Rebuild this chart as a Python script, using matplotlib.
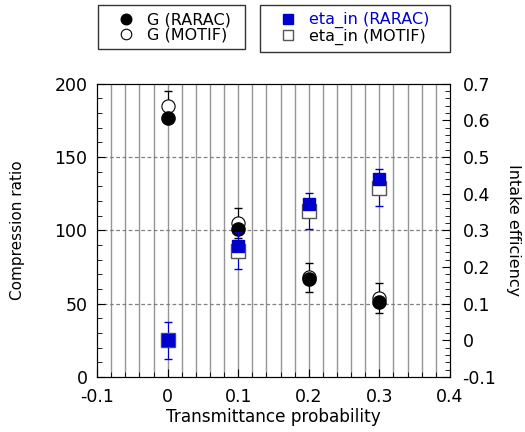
import numpy as np
import matplotlib
matplotlib.use("Agg")
import matplotlib.pyplot as plt
from matplotlib.ticker import MultipleLocator

# data
prob = [0.0, 0.1, 0.2, 0.3]
G_rarac = [177, 101, 67, 51]
G_motif = [185, 105, 68, 54]
G_motif_err = [10, 10, 10, 10]
eta_rarac = [0.0, 0.258, 0.372, 0.44]
eta_motif = [0.0, 0.245, 0.353, 0.417]
eta_motif_err = [0.05, 0.05, 0.05, 0.05]

plt.rcParams["font.family"] = "DejaVu Sans"
plt.rcParams["font.size"] = 12

fig = plt.figure(figsize=(5.25, 4.32), dpi=100)
ax = fig.add_axes([0.185, 0.127, 0.672, 0.679])
ax2 = ax.twinx()

ax.set_xlim(-0.1, 0.4)
ax.set_ylim(0, 200)
ax2.set_ylim(-0.1, 0.7)

# grid: vertical every 0.02, horizontal dashed at major ticks
for xv in np.arange(-0.08, 0.4, 0.02):
    ax.axvline(xv, color="#959595", lw=1.0, zorder=0)
for yv in [50, 100, 150]:
    ax.axhline(yv, color="#808080", lw=0.9, ls=(0, (3, 2)), zorder=0)

ax.xaxis.set_minor_locator(MultipleLocator(0.02))
ax.yaxis.set_minor_locator(MultipleLocator(10))
ax2.yaxis.set_minor_locator(MultipleLocator(0.02))
ax.set_xticks([-0.1, 0, 0.1, 0.2, 0.3, 0.4])
ax.set_xticklabels(["-0.1", "0", "0.1", "0.2", "0.3", "0.4"])
ax.set_yticks([0, 50, 100, 150, 200])
ax2.set_yticks([-0.1, 0, 0.1, 0.2, 0.3, 0.4, 0.5, 0.6, 0.7])
ax2.set_yticklabels(["-0.1", "0", "0.1", "0.2", "0.3", "0.4", "0.5", "0.6", "0.7"])

ax.tick_params(which="both", direction="in", top=False, right=False,
               labelsize=12.5)
ax.tick_params(axis="x", which="major", length=6, pad=8)
ax.tick_params(axis="y", which="major", length=6, pad=7)
ax.tick_params(which="minor", length=3.5)
ax2.tick_params(which="both", direction="in", labelsize=12.5)
ax2.tick_params(which="major", length=6, pad=9)
ax2.tick_params(which="minor", length=3.5)

ax.set_xlabel("Transmittance probability", fontsize=12.2, labelpad=1)
ax.set_ylabel("Compression ratio", fontsize=11, labelpad=21)
ax2.set_ylabel("Intake efficiency", fontsize=11.5, rotation=-90, labelpad=18)

# G series on left axis
ax.errorbar(prob, G_motif, yerr=G_motif_err, fmt="none", ecolor="black",
            elinewidth=0.8, capsize=3, zorder=3)
h_gm, = ax.plot(prob, G_motif, "o", ms=9.5, mfc="white", mec="black", mew=0.8,
                ls="none", zorder=4)
h_gr, = ax.plot(prob, G_rarac, "o", ms=9.5, mfc="black", mec="black",
                ls="none", zorder=5)

# eta series on right axis
ax2.errorbar(prob, eta_motif, yerr=eta_motif_err, fmt="none", ecolor="#0000cc",
             elinewidth=0.8, capsize=3, zorder=3)
h_em, = ax2.plot(prob, eta_motif, "s", ms=9.5, mfc="white", mec="#555555",
                 mew=1.0, ls="none", zorder=4)
h_er, = ax2.plot(prob, eta_rarac, "s", ms=8.5, mfc="#0000cc", mec="#0000cc",
                 ls="none", zorder=5)

legkw = dict(loc="upper left", mode="expand", frameon=True, fancybox=False,
             edgecolor="black", handlelength=2.6, handletextpad=0.0,
             borderpad=0.45, labelspacing=0.0, markerscale=0.8, fontsize=11.5,
             borderaxespad=0)
leg1 = fig.legend([h_gr, h_gm], ["G (RARAC)", "G (MOTIF)"],
                  bbox_to_anchor=(98 / 525, 1 - 5 / 432, 147 / 525, 0), **legkw)
leg1.get_frame().set_linewidth(1.0)
leg2 = fig.legend([h_er, h_em], ["eta_in (RARAC)", "eta_in (MOTIF)"],
                  bbox_to_anchor=(260 / 525, 1 - 5 / 432, 190 / 525, 0), **legkw)
leg2.get_frame().set_linewidth(1.0)
leg2.get_texts()[0].set_color("#0000cc")

fig.savefig("out.png", dpi=100)
